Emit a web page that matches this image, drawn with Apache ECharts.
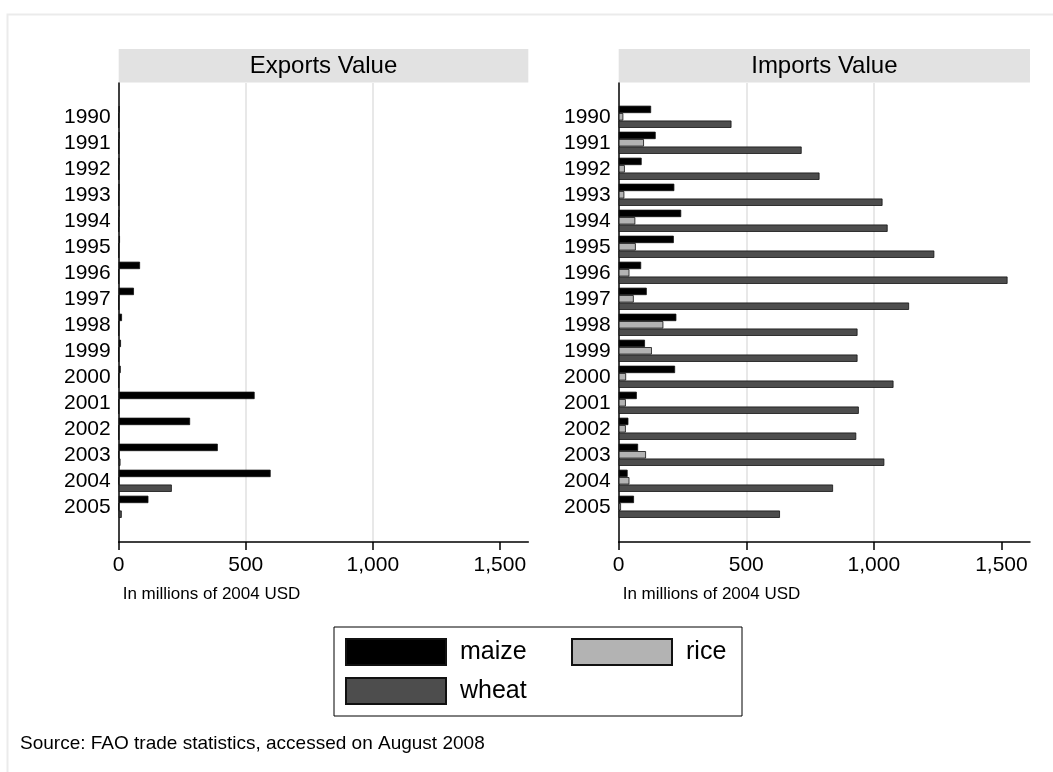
<!DOCTYPE html>
<html>
<head>
<meta charset="utf-8">
<title>Exports and imports value by cereal</title>
<script src="https://cdn.jsdelivr.net/npm/echarts@6/dist/echarts.min.js"></script>
<style>
  html, body { margin: 0; padding: 0; background: #ffffff; }
  #chart { width: 1053px; height: 772px; }
</style>
</head>
<body>
<div id="chart"></div>
<script>
// Years shown on the vertical axis (top to bottom)
const years = ['1990','1991','1992','1993','1994','1995','1996','1997',
               '1998','1999','2000','2001','2002','2003','2004','2005'];

// Tick values on the value axis (millions of 2004 USD)
const valueTicks = [0, 500, 1000, 1500];
const valueMax = 1612;

// Exports value, millions of 2004 USD
const exportsMaize = [3, 3, 2, 2, 2, 5, 84, 60, 13, 9, 8, 535, 281, 390, 598, 117];
const exportsRice  = [0, 0, 0, 0, 0, 0, 0, 0, 0, 0, 0, 0, 0, 0, 0, 0];
const exportsWheat = [0, 0, 0, 0, 0, 0, 0, 0, 0, 0, 0, 0, 0, 7, 209, 12];

// Imports value, millions of 2004 USD
const importsMaize = [127, 145, 90, 218, 245, 216, 88, 110, 226, 103, 221, 71, 38, 76, 35, 60];
const importsRice  = [18, 99, 24, 22, 65, 67, 42, 59, 175, 130, 29, 28, 28, 107, 42, 9];
const importsWheat = [442, 717, 787, 1034, 1054, 1237, 1524, 1138, 936, 936, 1077, 941, 931, 1041, 840, 632];

const panelTitles = ['Exports Value', 'Imports Value'];
const axisTitle = 'In millions of 2004 USD';
const sourceNote = 'Source: FAO trade statistics, accessed on August 2008';

const FONT = '"Liberation Sans", Arial, Helvetica, sans-serif';
const colors = { maize: '#000000', rice: '#b3b3b3', wheat: '#4d4d4d' };

// Panel geometry
const panels = [
  { left: 118.7, width: 409.6 },
  { left: 618.7, width: 411.3 }
];
const frameTop = 83, frameHeight = 459;
const barsTop = 103.8, barsHeight = 416;

const fmt = v => String(v).replace(/\B(?=(\d{3})+(?!\d))/g, ',');

const grids = [], xAxes = [], yAxes = [];
panels.forEach(p => {
  grids.push({ left: p.left, top: frameTop, width: p.width, height: frameHeight });
});
panels.forEach(p => {
  grids.push({ left: p.left, top: barsTop, width: p.width, height: barsHeight });
});

// Frame axes: ticks, labels, grid lines and the two axis lines
[0, 1].forEach(i => {
  xAxes.push({
    gridIndex: i, type: 'value', min: 0, max: valueMax,
    axisLine: { show: true, lineStyle: { color: '#000', width: 1.5 } },
    axisTick: { show: true, length: 8, customValues: valueTicks, lineStyle: { color: '#000', width: 1.5 } },
    axisLabel: { customValues: valueTicks, formatter: fmt, color: '#000', fontSize: 21, fontFamily: FONT, margin: 13 },
    splitLine: { show: true, showMinLine: false, showMaxLine: false, lineStyle: { color: '#e8e8e8', width: 2 } }
  });
  yAxes.push({
    gridIndex: i, type: 'value', min: 0, max: 1,
    axisLine: { show: true, lineStyle: { color: '#000', width: 1.5 } },
    axisTick: { show: false }, axisLabel: { show: false }, splitLine: { show: false }
  });
});

// Bar axes: category years and a hidden value scale
[2, 3].forEach(i => {
  xAxes.push({ gridIndex: i, type: 'value', min: 0, max: valueMax, show: false });
  yAxes.push({
    gridIndex: i, type: 'category', data: years, inverse: true,
    axisLine: { show: false }, axisTick: { show: false }, splitLine: { show: false },
    axisLabel: { interval: 0, color: '#000', fontSize: 21, fontFamily: FONT, margin: 8 }
  });
});

function barSeries(name, data, axisIdx) {
  return {
    name, type: 'bar', data,
    xAxisIndex: axisIdx, yAxisIndex: axisIdx,
    barWidth: 7.4, barGap: '0%',
    itemStyle: { color: colors[name], borderColor: '#111', borderWidth: 0.8 },
    emphasis: { disabled: true },
    animation: false
  };
}

const series = [
  barSeries('maize', exportsMaize, 2),
  barSeries('rice', exportsRice, 2),
  barSeries('wheat', exportsWheat, 2),
  barSeries('maize', importsMaize, 3),
  barSeries('rice', importsRice, 3),
  barSeries('wheat', importsWheat, 3)
];

// Panel headers, axis titles, outer frame and source note
const graphics = [
  { type: 'rect', left: 5, top: 12, shape: { width: 1100, height: 800 },
    style: { fill: 'none', stroke: '#ebebeb', lineWidth: 2 }, silent: true, z: -10 }
];
panels.forEach((p, i) => {
  graphics.push({
    type: 'rect', shape: { x: p.left, y: 49, width: p.width, height: 33.5 },
    style: { fill: '#e2e2e2' }, silent: true
  });
  graphics.push({
    type: 'text', x: p.left + p.width / 2, y: 66,
    style: { text: panelTitles[i], fontSize: 24, fontFamily: FONT, fill: '#000',
             textAlign: 'center', textVerticalAlign: 'middle' }, silent: true
  });
  graphics.push({
    type: 'text', x: p.left + 4, y: 594,
    style: { text: axisTitle, fontSize: 17, fontFamily: FONT, fill: '#000',
             textAlign: 'left', textVerticalAlign: 'middle' }, silent: true
  });
});
graphics.push({
  type: 'text', x: 20, y: 744,
  style: { text: sourceNote, fontSize: 19, fontFamily: FONT, fill: '#000',
           textAlign: 'left', textVerticalAlign: 'middle' }, silent: true
});

const legendText = { fontSize: 25, fontFamily: FONT, color: '#000', padding: [0, 0, 0, 9], lineHeight: 26, overflow: 'none' };

const option = {
  backgroundColor: '#ffffff',
  animation: false,
  grid: grids,
  xAxis: xAxes,
  yAxis: yAxes,
  series,
  graphic: graphics,
  legend: {
    left: 334, top: 627, width: 400,
    padding: 11, itemGap: 11,
    itemWidth: 100, itemHeight: 26, icon: 'rect',
    backgroundColor: '#ffffff', borderColor: '#000', borderWidth: 1, borderRadius: 0,
    selectedMode: false,
    textStyle: legendText,
    data: [
      { name: 'maize', textStyle: Object.assign({}, legendText, { width: 100 }) },
      { name: 'rice', textStyle: Object.assign({}, legendText, { width: 45 }) },
      { name: 'wheat' }
    ]
  }
};

const chart = echarts.init(document.getElementById('chart'), null, { renderer: 'canvas' });
chart.setOption(option);
</script>
</body>
</html>
